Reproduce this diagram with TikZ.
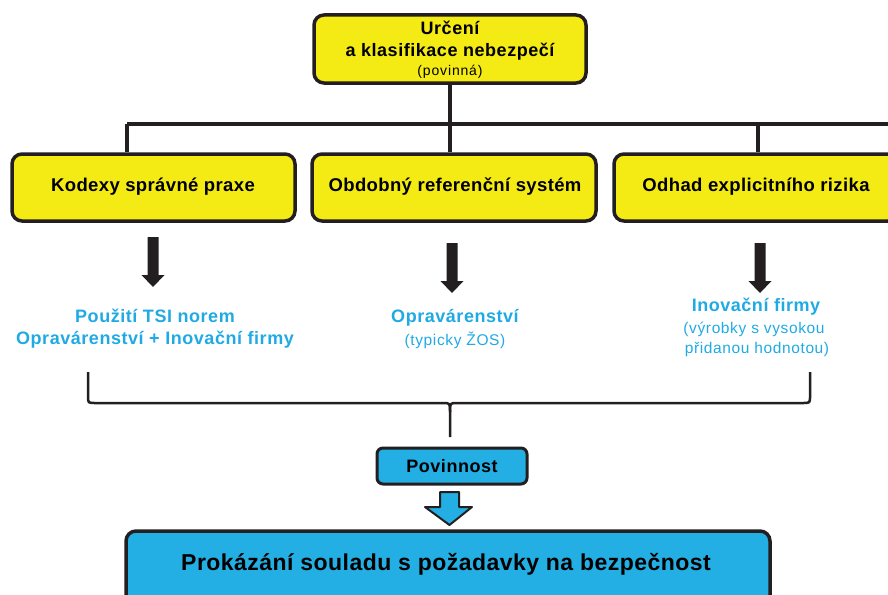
\documentclass[tikz,border=0pt]{standalone}
\usepackage{fontspec}
\setmainfont{Liberation Sans}
\definecolor{yel}{RGB}{245,235,20}
\definecolor{boxblue}{RGB}{35,175,228}
\definecolor{txtblue}{RGB}{32,170,228}
\definecolor{ink}{RGB}{35,31,32}
\tikzset{
  ybox/.style={draw=ink, line width=3.5pt, rounded corners=10pt, fill=yel, inner sep=0pt},
  bbox/.style={draw=ink, line width=3pt, rounded corners=7pt, fill=boxblue, inner sep=0pt},
  boxtext/.style={inner sep=0pt, font=\fontsize{18.5}{20}\selectfont\bfseries\addfontfeatures{LetterSpace=2}},
  toptext/.style={inner sep=0pt, font=\fontsize{18}{20}\selectfont\bfseries\addfontfeatures{LetterSpace=3}},
  bluebig/.style={inner sep=0pt, text=txtblue, font=\fontsize{18}{20}\selectfont\bfseries\addfontfeatures{LetterSpace=3}},
  bluesmall/.style={inner sep=0pt, text=txtblue, font=\fontsize{15.5}{18}\selectfont\addfontfeatures{LetterSpace=4}},
  tree/.style={draw=ink, line width=4.5pt},
  bracket/.style={draw=ink, line width=2.5pt},
  downarrow/.pic={\fill[ink] (-5.5,0) -- (5.5,0) -- (5.5,38) -- (11.5,38) -- (0,50) -- (-11.5,38) -- (-5.5,38) -- cycle;}
}
\begin{document}
\begin{tikzpicture}[x=1pt, y=-1pt]
\useasboundingbox (0,0) rectangle (888,594);

% top box
\node[ybox, minimum width=272pt, minimum height=68pt] (top) at (450,49) {};
\node[toptext] (topA) at (450,28) {Určení};
\node[toptext] (topB) at (450,52) {a klasifikace nebezpečí};
\node[inner sep=0pt, font=\fontsize{14}{16}\selectfont\addfontfeatures{LetterSpace=6}] (topC) at (450,72) {(povinná)};

% three method boxes
\node[ybox, minimum width=283pt, minimum height=67pt] (kod) at (153.5,187.5) {};
\node[ybox, minimum width=284pt, minimum height=67pt] (obd) at (454,187.5) {};
\node[ybox, minimum width=284pt, minimum height=67pt] (odh) at (756,187.5) {};
\node[boxtext] (kodT) at (153,187) {Kodexy správné praxe};
\node[boxtext] (obdT) at (455,187) {Obdobný referenční systém};
\node[boxtext] (odhT) at (756,187) {Odhad explicitního rizika};

% tree connectors
\coordinate (busL) at (127,124);
\coordinate (busR) at (888,124);
\coordinate (dropR) at (758,124);
\draw[tree] (top.south) -- (top.south |- busL);
\draw[tree] (busL) -- (busR);
\draw[tree] (busL) -- (busL |- kod.north);
\draw[tree] (top.south |- busL) -- (top.south |- obd.north);
\draw[tree] (dropR) -- (dropR |- odh.north);

% block arrows
\pic at (153,237) {downarrow};
\pic at (452,243) {downarrow};
\pic at (760,243) {downarrow};

% blue outcome texts
\node[bluebig] (useA) at (155,316) {Použití TSI norem};
\node[bluebig] (useB) at (155,340) {Opravárenství + Inovační firmy};
\node[bluebig] (repA) at (455,318) {Opravárenství};
\node[bluesmall] (repB) at (455,340) {(typicky ŽOS)};
\node[bluebig] (innA) at (756,307) {Inovační firmy};
\node[bluesmall] (innB) at (754,329) {(výrobky s vysokou};
\node[bluesmall] (innC) at (757,349) {přidanou hodnotou)};

% brace collecting the three outcomes
\coordinate (brL) at (88,372);
\coordinate (brR) at (810,372);
\coordinate (brTip) at (450,437);
\draw[bracket] (brL) -- (88,396) .. controls (88,403) .. (95,403) -- (443,403)
  .. controls (450,403) .. (450,412) -- (brTip);
\draw[bracket] (brR) -- (810,396) .. controls (810,403) .. (803,403) -- (457,403)
  .. controls (450,403) .. (450,412);

% obligation box and result
\node[bbox, minimum width=150pt, minimum height=36pt, rounded corners=6pt] (pov) at (452,466) {};
\node[toptext] (povT) at (452,466) {Povinnost};
\draw[draw=ink, line width=2pt, fill=boxblue, line join=round]
  (440,492) -- (459,492) -- (459,507) -- (472,507) -- (449.5,525) -- (425,507) -- (440,507) -- cycle;
\node[bbox, minimum width=644pt, minimum height=80pt, line width=3.5pt, rounded corners=10pt] (goal) at (448,571) {};
\node[inner sep=0pt, font=\fontsize{23}{26}\selectfont\bfseries\addfontfeatures{LetterSpace=2}] (goalT) at (446,564) {Prokázání souladu s požadavky na bezpečnost};
\end{tikzpicture}
\end{document}
